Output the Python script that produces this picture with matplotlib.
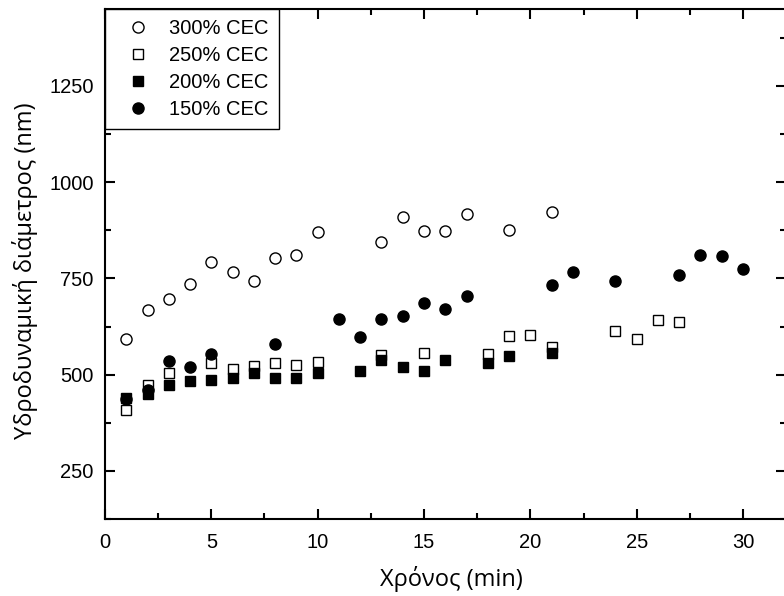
import matplotlib.pyplot as plt
from matplotlib.ticker import MultipleLocator

plt.rcParams['font.family'] = ['Liberation Sans', 'DejaVu Sans']

# 300% CEC (open circles)
t_300 = [1, 2, 3, 4, 5, 6, 7, 8, 9, 10, 13, 14, 15, 16, 17, 19, 21]
d_300 = [592, 669, 696, 736, 793, 767, 744, 804, 811, 870, 844, 909, 874, 872, 918, 877, 922]

# 250% CEC (open squares)
t_250 = [1, 2, 3, 5, 6, 7, 8, 9, 10, 13, 15, 18, 19, 20, 21, 24, 25, 26, 27]
d_250 = [409, 472, 504, 530, 514, 523, 531, 525, 533, 551, 557, 554, 600, 603, 572, 613, 593, 641, 636]

# 200% CEC (filled squares)
t_200 = [1, 2, 3, 4, 5, 6, 7, 8, 9, 10, 12, 13, 14, 15, 16, 18, 19, 21]
d_200 = [440, 451, 473, 484, 487, 492, 505, 492, 492, 504, 510, 538, 521, 510, 538, 530, 549, 556]

# 150% CEC (filled circles)
t_150 = [1, 2, 3, 4, 5, 8, 11, 12, 13, 14, 15, 16, 17, 21, 22, 24, 27, 28, 29, 30]
d_150 = [436, 461, 536, 520, 554, 580, 645, 599, 644, 652, 687, 671, 704, 732, 767, 743, 760, 810, 809, 775]

fig = plt.figure(figsize=(7.84, 5.96), dpi=100)
ax = fig.add_axes([0.1339, 0.1292, 0.8681, 0.8557])

ax.plot(t_300, d_300, 'o', ms=8, mfc='white', mec='black', mew=1.0, label='300% CEC')
ax.plot(t_250, d_250, 's', ms=7, mfc='white', mec='black', mew=1.0, label='250% CEC')
ax.plot(t_200, d_200, 's', ms=7, mfc='black', mec='black', mew=1.0, label='200% CEC')
ax.plot(t_150, d_150, 'o', ms=8, mfc='black', mec='black', mew=1.0, label='150% CEC')

ax.set_xlim(0, 32)
ax.set_ylim(125, 1450)
ax.xaxis.set_major_locator(MultipleLocator(5))
ax.xaxis.set_minor_locator(MultipleLocator(2.5))
ax.yaxis.set_major_locator(MultipleLocator(250))
ax.yaxis.set_minor_locator(MultipleLocator(125))
ax.set_yticks([250, 500, 750, 1000, 1250])

ax.tick_params(which='both', direction='in', top=True, right=True, width=1.5, labelsize=14.5)
ax.tick_params(which='major', length=7)
ax.tick_params(which='minor', length=4)
ax.tick_params(axis='x', which='major', pad=10)
ax.tick_params(axis='y', which='major', pad=8)
for s in ax.spines.values():
    s.set_linewidth(1.5)

ax.set_xlabel('Χρόνος (min)', fontsize=17, family=['Open Sans', 'DejaVu Sans'], labelpad=10)
ax.set_ylabel('Υδροδυναμική διάμετρος (nm)', fontsize=17, family=['Open Sans', 'DejaVu Sans'], labelpad=8)
ax.xaxis.label.set_x(0.509)
ax.yaxis.label.set_y(0.486)

leg = ax.legend(loc='upper left', bbox_to_anchor=(0, 1), borderaxespad=0,
                fancybox=False, edgecolor='black', framealpha=1, fontsize=14.5,
                handletextpad=0.39, borderpad=0.5, labelspacing=0.4, handlelength=2.3)
leg.get_frame().set_linewidth(1.0)

fig.savefig('out.png', dpi=100)
